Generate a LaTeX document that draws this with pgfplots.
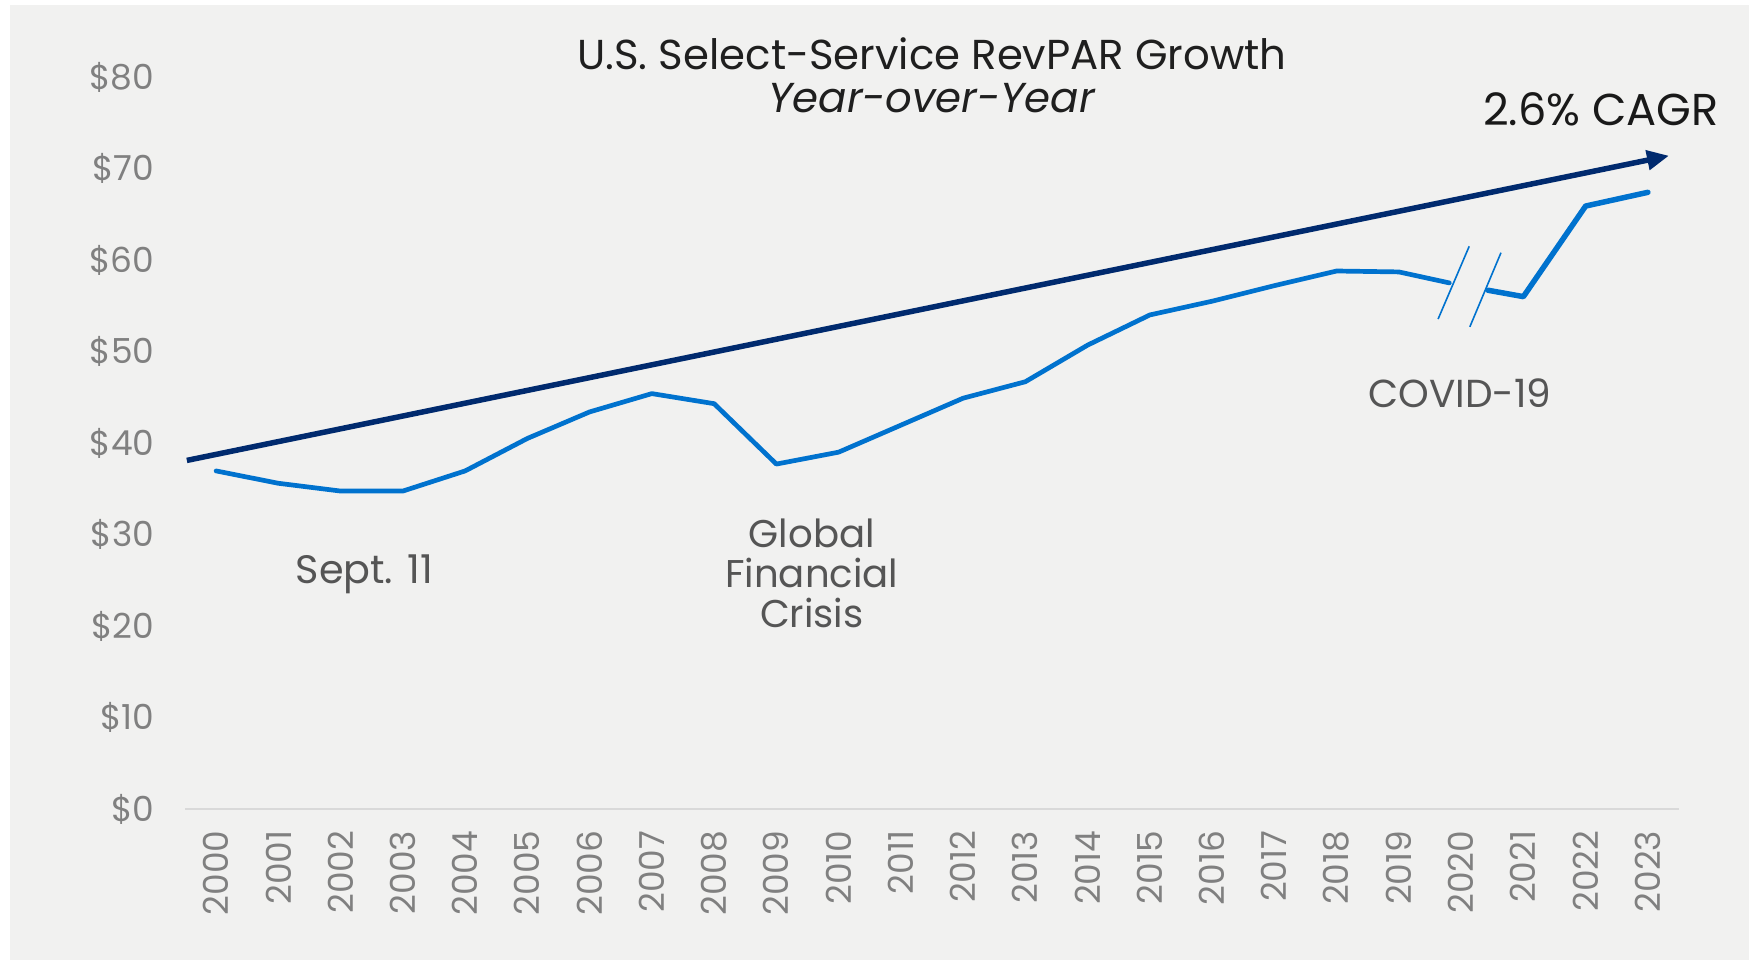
\documentclass[border=0pt]{standalone}
\usepackage{fontspec}
\setmainfont{Poppins}
\usepackage{pgfplots}
\pgfplotsset{compat=1.18}
\usetikzlibrary{arrows.meta}
\definecolor{bg}{HTML}{F1F1F0}
\definecolor{revblue}{HTML}{0072CE}
\definecolor{navy}{HTML}{002A6E}
\definecolor{tickgray}{HTML}{808080}
\definecolor{anngray}{HTML}{555555}
\definecolor{axgray}{HTML}{D9D9D9}

\begin{document}
\begin{tikzpicture}
\fill[white] (0,0) rectangle (174.9mm,96mm);
\fill[bg] (1mm,0) rectangle (174.9mm,95.5mm);
\begin{axis}[
    at={(18.5mm,15.1mm)}, anchor=south west,
    scale only axis, width=149.4mm, height=73.2mm,
    xmin=1999.5, xmax=2023.5, ymin=0, ymax=80,
    axis lines*=left,
    x axis line style={draw=axgray, line width=0.13mm},
    y axis line style={draw=none},
    major tick length=0,
    xtick={2000,...,2023}, ytick={0,10,...,80},
    /pgf/number format/assume math mode=true,
    tick label style={font=\fontsize{9.8pt}{10pt}\selectfont, text=tickgray, inner sep=0pt},
    yticklabel={\$\pgfmathprintnumber{\tick}},
    yticklabel style={anchor=east},
    yticklabel shift=3mm,
    xticklabel style={rotate=90, anchor=east, /pgf/number format/1000 sep={}},
    xticklabel shift=2.1mm,
    clip=false,
]
% trend (CAGR) arrow
\addplot[navy, line width=0.55mm, -{Triangle[length=2.2mm,width=1.9mm]}]
    coordinates {(1999.53,38.1) (2023.34,71.4)};
% RevPAR, split at the 2020 break
\addplot[revblue, line width=0.47mm, line join=round, line cap=round] coordinates {
    (2000,36.95) (2001,35.6) (2002,34.75) (2003,34.75) (2004,36.95)
    (2005,40.5) (2006,43.4) (2007,45.4) (2008,44.3) (2009,37.7)
    (2010,39.0) (2011,41.95) (2012,44.9) (2013,46.7) (2014,50.7)
    (2015,54.0) (2016,55.5) (2017,57.2) (2018,58.8) (2019,58.7)
    (2019.81,57.5)
};
\addplot[revblue, line width=0.55mm, line join=round, line cap=round] coordinates {
    (2020.43,56.7) (2021,56.0) (2022,65.9) (2023,67.4)
};
% break marks
\addplot[revblue, line width=0.16mm] coordinates {(2019.63,53.55) (2020.13,61.5)};
\addplot[revblue, line width=0.16mm] coordinates {(2020.14,52.7) (2020.64,60.8)};

\node[align=center, text=black!88, font=\fontsize{11.9pt}{12.4pt}\selectfont]
    at (axis cs:2011.5,80.2) {U.S. Select-Service RevPAR Growth\\\textit{Year-over-Year}};
\node[anchor=east, inner sep=0pt, text=black!90, font=\fontsize{12.7pt}{13pt}\selectfont]
    at (axis cs:2024.15,76.5) {2.6\% CAGR};
\node[text=anngray, font=\fontsize{11.3pt}{12pt}\selectfont]
    at (axis cs:2002.38,25.7) {Sept. 11};
\node[align=center, text=anngray, font=\fontsize{11pt}{11.4pt}\selectfont]
    at (axis cs:2009.57,25.8) {Global\\Financial\\Crisis};
\node[text=anngray, font=\fontsize{11.1pt}{12pt}\selectfont]
    at (axis cs:2019.98,45.4) {COVID-19};
\end{axis}
\end{tikzpicture}
\end{document}
